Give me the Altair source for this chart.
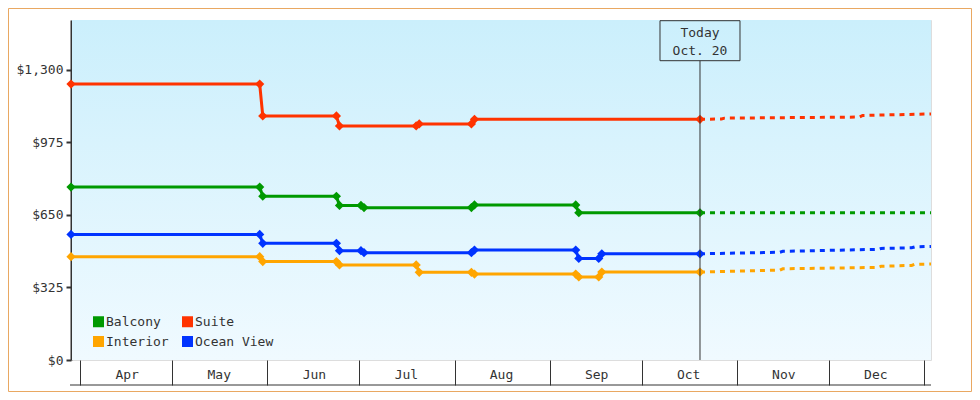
import altair as alt
import pandas as pd

FONT = "DejaVu Sans Mono"
INK = "#333333"

series_names = ["Balcony", "Suite", "Interior", "Ocean View"]
series_colors = ["#009900", "#ff3300", "#ffa500", "#0033ff"]

# ---- price history (solid lines with diamonds) ----
suite_dates = ["2013-03-29T00:00", "2013-05-29T12:00", "2013-05-30T12:00", "2013-06-23T12:00",
               "2013-06-24T12:00", "2013-07-19T12:00", "2013-07-20T12:00", "2013-08-06T12:00",
               "2013-08-07T12:00", "2013-10-20T00:00"]
suite_prices = [1237, 1237, 1094, 1094, 1049, 1049, 1058, 1058, 1079, 1079]

balcony_dates = ["2013-03-29T00:00", "2013-05-29T12:00", "2013-05-30T12:00", "2013-06-23T12:00",
                 "2013-06-24T12:00", "2013-07-01T12:00", "2013-07-02T12:00", "2013-08-06T12:00",
                 "2013-08-07T12:00", "2013-09-09T12:00", "2013-09-10T12:00", "2013-10-20T00:00"]
balcony_prices = [775, 775, 734, 734, 693, 693, 683, 683, 695, 695, 660, 660]

ocean_dates = ["2013-03-29T00:00", "2013-05-29T12:00", "2013-05-30T12:00", "2013-06-23T12:00",
               "2013-06-24T12:00", "2013-07-01T12:00", "2013-07-02T12:00", "2013-08-06T12:00",
               "2013-08-07T12:00", "2013-09-09T12:00", "2013-09-10T12:00", "2013-09-17T00:00",
               "2013-09-18T00:00", "2013-10-20T00:00"]
ocean_prices = [563, 563, 523, 523, 490, 490, 481, 481, 493, 493, 455, 455, 476, 476]

interior_dates = ["2013-03-29T00:00", "2013-05-29T12:00", "2013-05-30T12:00", "2013-06-23T12:00",
                  "2013-06-24T12:00", "2013-07-19T12:00", "2013-07-20T12:00", "2013-08-06T12:00",
                  "2013-08-07T12:00", "2013-09-09T12:00", "2013-09-10T12:00", "2013-09-17T00:00",
                  "2013-09-18T00:00", "2013-10-20T00:00"]
interior_prices = [463, 463, 441, 441, 426, 426, 393, 393, 385, 385, 372, 372, 394, 394]

# ---- forecast (dashed lines) ----
suite_fc_dates = ["2013-10-20T00:00", "2013-10-27T00:00", "2013-10-28T00:00", "2013-12-11T00:00",
                  "2013-12-12T00:00", "2014-01-03T07:00"]
suite_fc_prices = [1079, 1080, 1084, 1089, 1096, 1103]

balcony_fc_dates = ["2013-10-20T00:00", "2014-01-03T07:00"]
balcony_fc_prices = [660, 660]

ocean_fc_dates = ["2013-10-20T00:00", "2013-11-15T00:00", "2013-11-16T00:00", "2013-12-17T00:00",
                  "2013-12-18T00:00", "2013-12-28T00:00", "2013-12-29T00:00", "2014-01-03T07:00"]
ocean_fc_prices = [476, 483, 487, 496, 500, 503, 507, 509]

interior_fc_dates = ocean_fc_dates
interior_fc_prices = [394, 403, 409, 415, 420, 424, 429, 430]

today_date = "2013-10-20T00:00"
today_title = "Today"
today_label = "Oct. 20"

y_ticks = [0, 325, 650, 975, 1300]
month_starts = [(2013, m) for m in range(4, 13)] + [(2014, 1)]


def frame(name, dates, prices):
    return pd.DataFrame({"series": name, "date": dates, "price": prices})


hist_frames = {
    "Balcony": frame("Balcony", balcony_dates, balcony_prices),
    "Suite": frame("Suite", suite_dates, suite_prices),
    "Interior": frame("Interior", interior_dates, interior_prices),
    "Ocean View": frame("Ocean View", ocean_dates, ocean_prices),
}
fore_frames = {
    "Balcony": frame("Balcony", balcony_fc_dates, balcony_fc_prices),
    "Suite": frame("Suite", suite_fc_dates, suite_fc_prices),
    "Interior": frame("Interior", interior_fc_dates, interior_fc_prices),
    "Ocean View": frame("Ocean View", ocean_fc_dates, ocean_fc_prices),
}
hist = pd.concat([hist_frames[n] for n in series_names], ignore_index=True)

today_df = pd.DataFrame({"date": [today_date]})
one_row = pd.DataFrame({"k": [0]})

W, H = 860, 340

x_scale = alt.Scale(domain=[alt.DateTime(year=2013, month=3, date=29),
                            alt.DateTime(year=2014, month=1, date=3, hours=7)])
x_axis = alt.Axis(
    values=[alt.DateTime(year=y, month=m, date=1) for (y, m) in month_starts],
    labelExpr="month(datum.value) == 0 ? '' : timeFormat(datum.value, '%b')",
    domain=False, tickSize=25, tickWidth=1, tickColor=INK,
    labelOffset=46.5, labelAlign="center", labelBaseline="alphabetic",
    labelPadding=-7, labelFlush=False, labelOverlap=False, labelBound=False,
    labelFont=FONT, labelFontSize=13, labelColor=INK, grid=False,
)
X = alt.X("date:T", scale=x_scale, axis=x_axis, title=None)

y_scale = alt.Scale(domain=[0, 1524], nice=False, zero=True)
y_axis = alt.Axis(values=y_ticks, format="$,.0f", domainColor=INK, domainWidth=2,
                  tickColor=INK, tickWidth=2, tickSize=5, labelPadding=3,
                  labelFont=FONT, labelFontSize=13, labelColor=INK, grid=False)
Y = alt.Y("price:Q", scale=y_scale, axis=y_axis, title=None)

color_scale = alt.Scale(domain=series_names, range=series_colors)

background = alt.Chart(one_row).mark_rect(
    color=alt.LinearGradient(
        gradient="linear", x1=0, x2=0, y1=0, y2=1,
        stops=[alt.GradientStop(color="#cbeffc", offset=0),
               alt.GradientStop(color="#f0faff", offset=1)],
    )
).encode(x=alt.value(1), x2=alt.value(W), y=alt.value(0), y2=alt.value(H))

line_layers = []
for name, col in zip(series_names, series_colors):
    line_layers.append(
        alt.Chart(hist_frames[name]).mark_line(strokeWidth=3, color=col).encode(
            x=X, y=Y, order=alt.Order("date:T"))
    )
    line_layers.append(
        alt.Chart(fore_frames[name]).mark_line(strokeWidth=3, color=col, strokeDash=[5, 5]).encode(
            x=X, y=Y, order=alt.Order("date:T"))
    )

points = alt.Chart(hist).mark_point(shape="diamond", filled=True, size=85, opacity=1).encode(
    x=X, y=Y,
    color=alt.Color(
        "series:N", scale=color_scale,
        legend=alt.Legend(
            title=None, orient="none", legendX=21, legendY=295, columns=2,
            direction="horizontal",
            symbolType="square", symbolSize=121, symbolStrokeWidth=0,
            labelFont=FONT, labelFontSize=13, labelColor=INK, labelOffset=1,
            columnPadding=12, rowPadding=6, padding=0, zindex=5,
        ),
    ),
)

today_rule = alt.Chart(today_df).mark_rule(color=INK, strokeWidth=1).encode(
    x=X, y=alt.value(40.7), y2=alt.value(H)
)

today_box = alt.Chart(today_df).mark_point(
    shape="M-1,-0.5L1,-0.5L1,0.5L-1,0.5Z", size=6400, filled=False,
    color=INK, strokeWidth=1, opacity=1,
).encode(x=X, y=alt.value(20.7))

today_text1 = alt.Chart(today_df).mark_text(
    font=FONT, fontSize=13, color=INK, align="center", baseline="alphabetic"
).encode(x=X, y=alt.value(17.3), text=alt.value(today_title))

today_text2 = alt.Chart(today_df).mark_text(
    font=FONT, fontSize=13, color=INK, align="center", baseline="alphabetic"
).encode(x=X, y=alt.value(35), text=alt.value(today_label))

bottom_line = alt.Chart(one_row).mark_rule(color=INK, strokeWidth=1).encode(
    x=alt.value(-1), x2=alt.value(W), y=alt.value(H + 25)
)

border = alt.Chart(one_row).mark_rect(fill="transparent", stroke="#e9a862", strokeWidth=1).encode(
    x=alt.value(-62.5), x2=alt.value(W + 40.5), y=alt.value(-11.5), y2=alt.value(H + 31.5)
)

chart = alt.layer(
    background, *line_layers, points, today_rule, today_box,
    today_text1, today_text2, bottom_line, border,
).properties(
    width=W, height=H,
    autosize=alt.AutoSizeParams(type="none"),
    padding={"left": 63, "top": 12, "right": 41, "bottom": 32},
).configure_view(stroke="transparent").configure(background="white")

chart.save("out.html", embed_options={"renderer": "svg", "actions": False})
